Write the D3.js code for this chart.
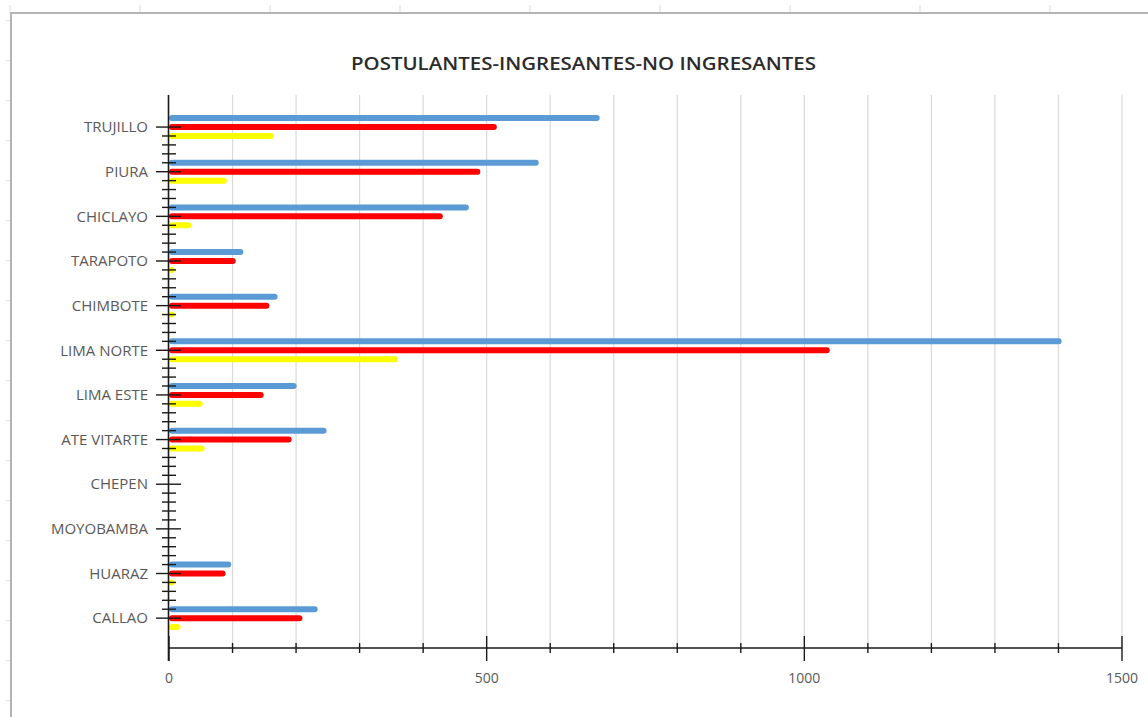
<!DOCTYPE html>
<html>
<head>
<meta charset="utf-8">
<script src="https://cdn.jsdelivr.net/npm/d3@7"></script>
<style>
  body { margin: 0; background: #fff; }
  svg { display: block; }
</style>
</head>
<body>
<script>
const categories = ['TRUJILLO', 'PIURA', 'CHICLAYO', 'TARAPOTO', 'CHIMBOTE', 'LIMA NORTE',
  'LIMA ESTE', 'ATE VITARTE', 'CHEPEN', 'MOYOBAMBA', 'HUARAZ', 'CALLAO']
const postulantes = [678, 582, 472, 117, 171, 1405, 201, 248, 0, 0, 98, 234]
const ingresantes = [516, 490, 431, 105, 158, 1040, 149, 193, 0, 0, 89, 210]
const noIngresantes = [165, 91, 35, 9, 9, 360, 53, 56, 0, 0, 9, 18]
const xTickLabels = [0, 500, 1000, 1500]
const title = 'POSTULANTES-INGRESANTES-NO INGRESANTES'

const series = [
  { values: postulantes, color: '#5b9bd5' },
  { values: ingresantes, color: '#ff0000' },
  { values: noIngresantes, color: '#ffff00' }
]

const w = 1148
const h = 717
const margin = { top: 95, left: 169, right: 26, bottom: 69 }
const width = w - margin.left - margin.right
const height = h - margin.top - margin.bottom

// each category uses 5 rows: 3 bars + 2 empty, with 2 empty rows on top
const rowsPerCat = 5
const lead = 2
const nRows = lead + categories.length * rowsPerCat

const svg = d3.select('body').append('svg')
  .attr('width', w)
  .attr('height', h)

// worksheet frame behind the chart
const sheet = svg.append('g')
sheet.selectAll('.col').data(d3.range(9)).enter().append('line')
  .attr('x1', d => 10 + d * 130).attr('x2', d => 10 + d * 130)
  .attr('y1', 5).attr('y2', 13)
  .attr('stroke', '#dadada')
sheet.selectAll('.row').data(d3.range(18)).enter().append('line')
  .attr('x1', 6).attr('x2', 11)
  .attr('y1', d => 20.5 + d * 40).attr('y2', d => 20.5 + d * 40)
  .attr('stroke', '#e2e2e2')
sheet.append('path')
  .attr('d', 'M11,717 V13 H1148')
  .attr('fill', 'none')
  .attr('stroke', '#b4b4b4')
  .attr('stroke-width', 2)

svg.append('text')
  .attr('x', 583.5)
  .attr('y', 70)
  .attr('text-anchor', 'middle')
  .attr('font-family', 'Open Sans')
  .attr('font-weight', 600)
  .attr('font-size', 18)
  .attr('fill', '#2b2b2b')
  .attr('textLength', 465)
  .attr('lengthAdjust', 'spacingAndGlyphs')
  .text(title)

const g = svg.append('g').attr('transform', 'translate(' + margin.left + ',' + margin.top + ')')

const x = d3.scaleLinear().domain([0, 1500]).range([0, width])
const y = d3.scaleBand().domain(d3.range(nRows)).range([0.8, height + 1.4])
const rowY = r => y(r) + y.bandwidth() / 2

// gridlines
g.selectAll('.grid')
  .data(d3.range(100, 1501, 100))
  .enter().append('line')
    .attr('class', 'grid')
    .attr('x1', d => x(d)).attr('x2', d => x(d))
    .attr('y1', 0).attr('y2', height)
    .attr('stroke', '#d9d9d9')
    .attr('stroke-width', 1.2)

// bars
series.forEach((s, j) => {
  g.selectAll('.bar' + j)
    .data(s.values.map((v, i) => ({ v, i })).filter(d => d.v > 0))
    .enter().append('rect')
      .attr('x', 0)
      .attr('y', d => rowY(lead + d.i * rowsPerCat + j) - 3)
      .attr('width', d => x(d.v))
      .attr('height', 6)
      .attr('rx', 3)
      .attr('fill', s.color)
})

// x axis
const xAxis = g.append('g').attr('transform', 'translate(0,' + height + ')')
xAxis.append('line')
  .attr('x1', 0).attr('x2', x(1500))
  .attr('stroke', '#1a1a1a').attr('stroke-width', 1.6)
xAxis.selectAll('.xt')
  .data(d3.range(0, 1501, 100))
  .enter().append('line')
    .attr('x1', d => x(d)).attr('x2', d => x(d))
    .attr('y1', d => d % 500 === 0 ? -12 : -5)
    .attr('y2', d => d % 500 === 0 ? 13 : 5)
    .attr('stroke', '#1a1a1a').attr('stroke-width', 1.4)
xAxis.selectAll('.xl')
  .data(xTickLabels)
  .enter().append('text')
    .attr('x', d => x(d))
    .attr('y', 35)
    .attr('text-anchor', 'middle')
    .attr('font-family', 'Open Sans')
    .attr('font-size', 14)
    .attr('fill', '#595959')
    .text(d => d)

// y axis
const yAxis = g.append('g')
yAxis.append('line')
  .attr('x1', -0.5).attr('x2', -0.5)
  .attr('y1', 0).attr('y2', height + 13)
  .attr('stroke', '#1a1a1a').attr('stroke-width', 1.6)
const tickRows = d3.range(lead + 1, lead + 1 + (categories.length - 1) * rowsPerCat + 1)
yAxis.selectAll('.yt')
  .data(tickRows)
  .enter().append('line')
    .attr('y1', d => rowY(d)).attr('y2', d => rowY(d))
    .attr('x1', d => (d - lead - 1) % rowsPerCat === 0 ? -13 : -7)
    .attr('x2', d => (d - lead - 1) % rowsPerCat === 0 ? 12 : 7)
    .attr('stroke', '#1a1a1a').attr('stroke-width', 1.4)
yAxis.selectAll('.yl')
  .data(categories)
  .enter().append('text')
    .attr('x', -21)
    .attr('y', (d, i) => rowY(lead + i * rowsPerCat + 1))
    .attr('dy', '0.35em')
    .attr('text-anchor', 'end')
    .attr('font-family', 'Open Sans')
    .attr('font-size', 15)
    .attr('fill', '#595959')
    .text(d => d)
</script>
</body>
</html>
